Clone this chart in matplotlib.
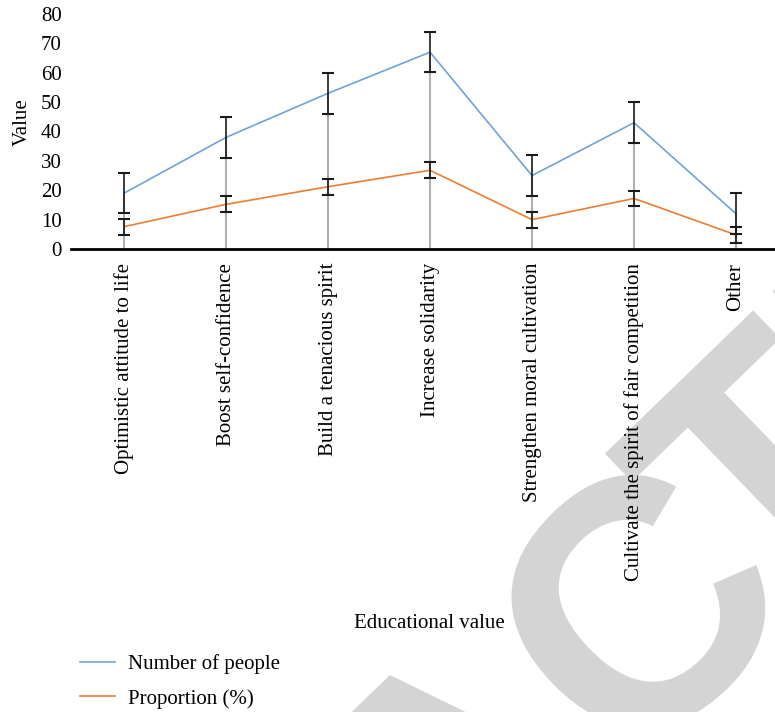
import matplotlib
matplotlib.use("Agg")
import matplotlib.pyplot as plt
import numpy as np
from matplotlib.textpath import TextPath
from matplotlib.patches import PathPatch
from matplotlib.font_manager import FontProperties
import matplotlib.transforms as mtransforms

categories = ["Optimistic attitude to life", "Boost self-confidence", "Build a tenacious spirit",
              "Increase solidarity", "Strengthen moral cultivation",
              "Cultivate the spirit of fair competition", "Other"]
people = [19, 38, 53, 67, 25, 43, 12]
proportion = [7.6, 15.2, 21.2, 26.8, 10.0, 17.2, 4.8]
people_err = [6.9] * 7
prop_err = [2.7] * 7
yticks = [0, 10, 20, 30, 40, 50, 60, 70, 80]

W, H = 775, 712
FS = 15
fig = plt.figure(figsize=(W / 100, H / 100), dpi=100)
plt.rcParams['font.family'] = ['Liberation Serif', 'DejaVu Serif']

# watermark ("RETRACTED", partly visible)
fp = FontProperties(family='Liberation Sans', weight='bold')
size = 350
pre = TextPath((0, 0), "RETRACT", size=size, prop=fp).get_extents()
text_t = TextPath((0, 0), "T", size=size, prop=fp).get_extents()
tx = pre.x1 - text_t.width / 2
ty = text_t.y1
part1 = TextPath((45, -10), "RETRAC", size=size, prop=fp)
x_t = pre.x1 - text_t.width - text_t.x0
part2 = TextPath((x_t, 0), "TED", size=size, prop=fp)
trans = mtransforms.Affine2D().translate(-tx, -ty).rotate_deg(44).translate(679, H - 382)
for p in (part1, part2):
    fig.add_artist(PathPatch(p, facecolor='#d4d4d4', edgecolor='none', transform=trans, zorder=-5))

ax = fig.add_axes([71 / W, (H - 249) / H, 716 / W, 235 / H])
ax.patch.set_alpha(0)
x = np.arange(len(categories))

# drop lines
ax.vlines(x, 0, people, color='#b4afaf', lw=1.5, zorder=1)
ax.plot(x, people, color='#6fa3d9', lw=1.2, zorder=3, label='Number of people')
ax.plot(x, proportion, color='#ed7d31', lw=1.2, zorder=3, label='Proportion (%)')
ax.errorbar(x, people, yerr=people_err, fmt='none', ecolor='#1a1a1a', elinewidth=1.2,
            capsize=4, capthick=1.5, zorder=4)
ax.errorbar(x, proportion, yerr=prop_err, fmt='none', ecolor='#1a1a1a', elinewidth=1.2,
            capsize=4, capthick=1.5, zorder=4)

ax.set_xlim(-0.52, 6.5)
ax.set_ylim(0, 80)
ax.set_yticks(yticks)
ax.set_yticklabels([str(v) for v in yticks], fontsize=FS)
ax.set_xticks(x)
ax.set_xticklabels(categories, rotation=90, fontsize=FS, va='top', ha='center')
ax.tick_params(axis='y', length=0, pad=6.5)
ax.tick_params(axis='x', length=0, pad=10)
for s in ['top', 'right', 'left']:
    ax.spines[s].set_visible(False)
ax.spines['bottom'].set_linewidth(2)
ax.spines['bottom'].set_color('black')

fig.text(22 / W, 1 - 122 / H, 'Value', rotation=90, ha='center', va='center', fontsize=FS)
fig.text(429 / W, 1 - 623 / H, 'Educational value', ha='center', va='center', fontsize=FS)

leg = fig.legend(loc='upper left', bbox_to_anchor=(80 / W, 1 - 654 / H), frameon=False,
                 fontsize=FS, handlelength=1.7, handletextpad=0.6, labelspacing=0.72,
                 borderaxespad=0, borderpad=0)

fig.savefig('out.png', dpi=100)
